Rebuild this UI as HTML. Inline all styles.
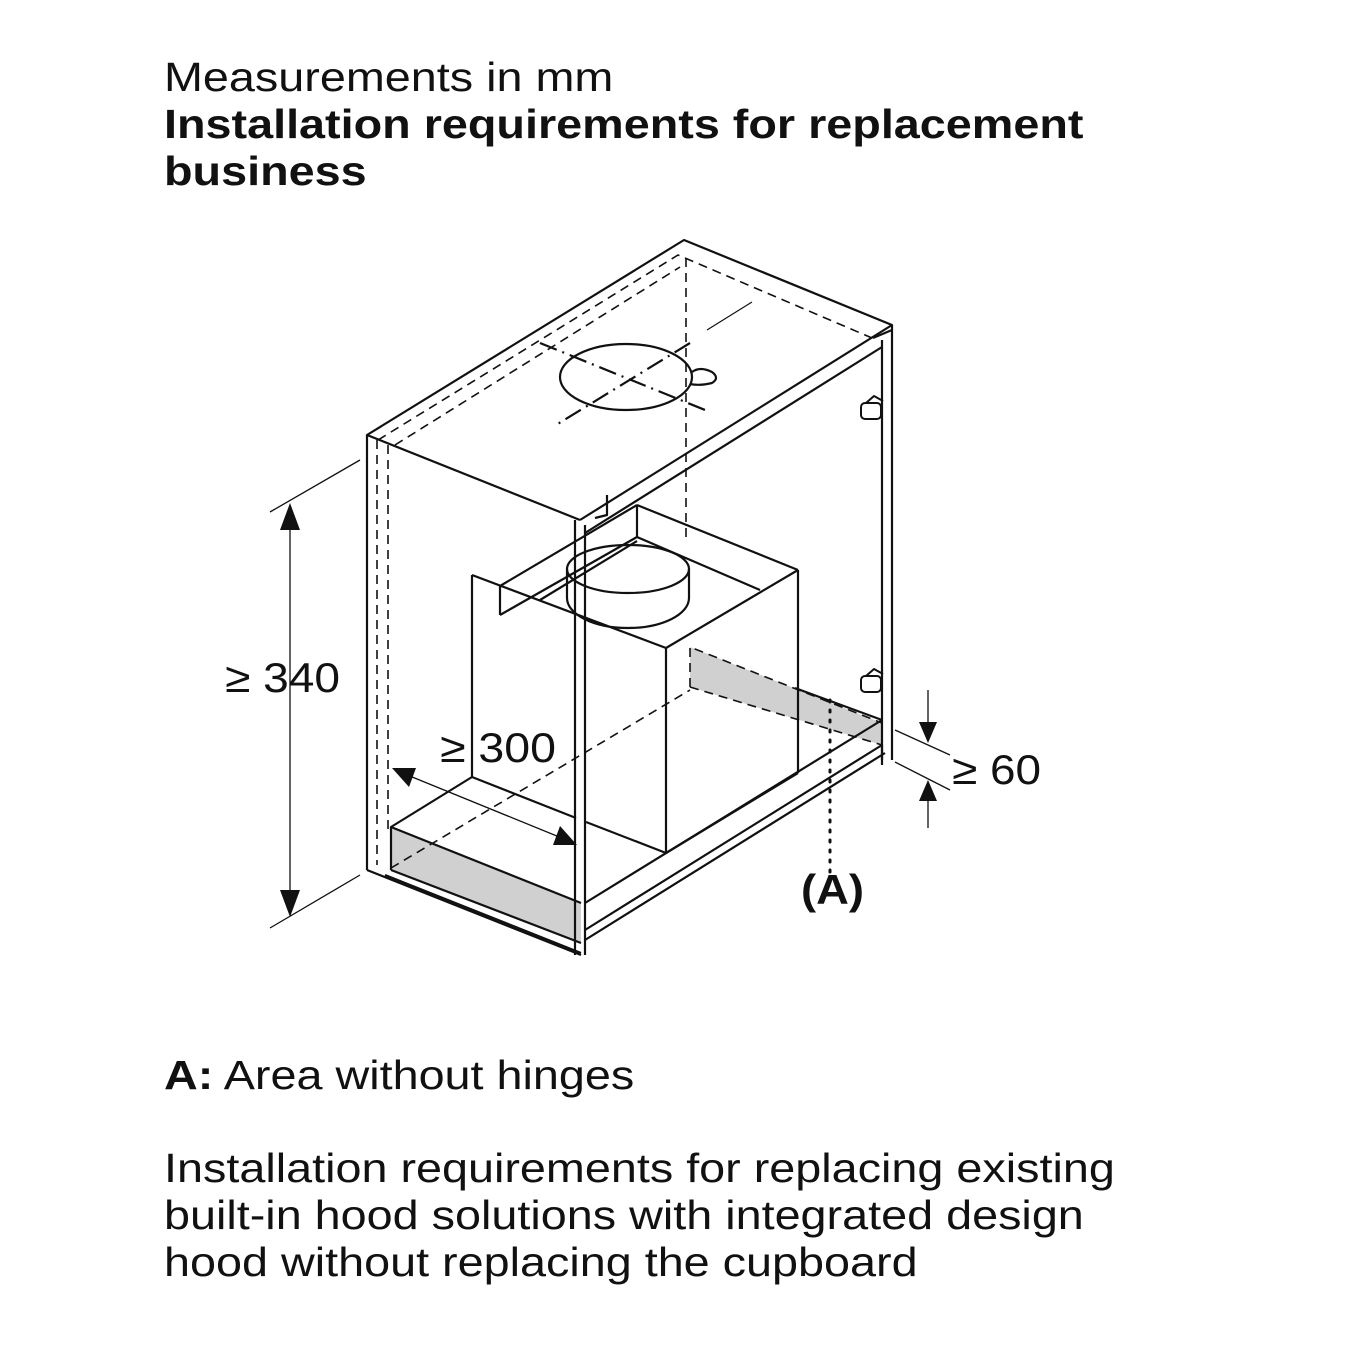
<!DOCTYPE html>
<html><head><meta charset="utf-8"><style>
html,body{margin:0;padding:0;background:#fff;}
body{width:1346px;height:1346px;position:relative;overflow:hidden;font-family:"Liberation Sans",Arial,sans-serif;color:#111;}
.t{position:absolute;left:164px;font-size:41px;line-height:47px;white-space:nowrap;transform:scaleX(1.14);transform-origin:0 0;}
b{font-weight:bold;}
</style></head><body>
<div class="t" style="top:54px">Measurements in mm</div>
<div class="t" style="top:101px"><b>Installation requirements for replacement<br>business</b></div>
<div class="t" style="top:1052px"><b>A:</b> Area without hinges</div>
<div class="t" style="top:1145px">Installation requirements for replacing existing<br>built-in hood solutions with integrated design<br>hood without replacing the cupboard</div>

<svg width="1346" height="1346" style="position:absolute;left:0;top:0" xmlns="http://www.w3.org/2000/svg">
<g fill="none" stroke="#111" stroke-width="2.2" stroke-linejoin="round">
<polygon points="391,827 581,903 581,943 391,870" fill="#d0d0d0" stroke="none"/>
<polygon points="690,647 882,723 882,745 690,687" fill="#d0d0d0" stroke="none"/>
<polyline points="367,870 367,435 684,240 892,325 892,760"/>
<line x1="367" y1="435" x2="580" y2="520"/>
<line x1="580" y1="520" x2="892" y2="325"/>
<line x1="575" y1="520" x2="575" y2="955"/>
<line x1="585" y1="525" x2="585" y2="955"/>
<line x1="367" y1="870" x2="581" y2="955"/>
<line x1="585" y1="533" x2="882" y2="347"/>
<line x1="882" y1="340" x2="882" y2="760"/>
<line x1="873" y1="338" x2="892" y2="330"/>
<polyline points="391,870 391,827 472,777"/>
<line x1="391" y1="827" x2="581" y2="903"/>
<line x1="391" y1="870" x2="581" y2="943"/>
<line x1="385" y1="875" x2="581" y2="953"/>
<line x1="585" y1="903" x2="882" y2="720"/>
<line x1="585" y1="930" x2="882" y2="745"/>
<line x1="585" y1="940" x2="885" y2="753"/>
<line x1="795" y1="688" x2="882" y2="720"/>
<line x1="882" y1="745" x2="882" y2="765"/>
<line x1="472" y1="575" x2="472" y2="777"/>
<line x1="472" y1="777" x2="576" y2="818"/>
<line x1="586" y1="822" x2="666" y2="853"/>
<line x1="666" y1="648" x2="666" y2="853"/>
<line x1="472" y1="575" x2="666" y2="648"/>
<line x1="666" y1="648" x2="798" y2="570"/>
<line x1="798" y1="570" x2="798" y2="773"/>
<line x1="666" y1="853" x2="798" y2="773"/>
<line x1="798" y1="570" x2="637" y2="505"/>
<line x1="637" y1="505" x2="637" y2="537"/>
<line x1="637" y1="537" x2="500" y2="615"/>
<polyline points="500,615 500,586 637,505"/>
<line x1="540" y1="600" x2="637" y2="541"/>
<line x1="637" y1="537" x2="760" y2="590"/>
<polyline points="607,495 607,515 595,518"/>
<ellipse cx="628" cy="569" rx="61" ry="24"/>
<path d="M567,569 L567,598 A61,30 0 0 0 689,598 L689,569"/>
<ellipse cx="626" cy="377" rx="66" ry="33"/>
<path d="M692,372 Q700,366 712,372 Q720,378 712,383 Q700,386 690,384"/>
<g stroke-width="2">
<rect x="861" y="403" width="20" height="16" rx="4"/><path d="M866,403 L874,396 L883,401"/>
<rect x="861" y="676" width="20" height="16" rx="4"/><path d="M866,676 L874,669 L883,674"/>
</g>
</g>
<g fill="none" stroke="#111" stroke-width="1.6" stroke-dasharray="9,6">
<polyline points="378,440 678,255 872,338"/>
<polyline points="395,445 680,267"/>
<line x1="377" y1="440" x2="377" y2="865"/>
<line x1="388" y1="445" x2="388" y2="830"/>
<line x1="686" y1="258" x2="686" y2="540"/>
<line x1="391" y1="868" x2="690" y2="690"/>
<polyline points="690,687 690,647 882,723"/>
<line x1="690" y1="687" x2="882" y2="745"/>
</g>
<g fill="none" stroke="#111" stroke-width="2.2" stroke-dasharray="18,6,2,6">
<line x1="540" y1="343" x2="710" y2="412"/>
<line x1="690" y1="343" x2="556" y2="425"/>
</g>
<line x1="707" y1="330" x2="752" y2="302" stroke="#111" stroke-width="1.2"/>
<line x1="830" y1="700" x2="830" y2="880" stroke="#111" stroke-width="3" stroke-dasharray="2,8" stroke-linecap="round"/>
<g stroke="#111" stroke-width="1.3" fill="none">
<line x1="270" y1="512" x2="360" y2="460"/>
<line x1="270" y1="928" x2="360" y2="875"/>
<line x1="290" y1="510" x2="290" y2="912"/>
<line x1="395" y1="770" x2="574" y2="843"/>
<line x1="895" y1="730" x2="950" y2="755"/>
<line x1="895" y1="762" x2="950" y2="790"/>
<line x1="928" y1="690" x2="928" y2="738"/>
<line x1="928" y1="785" x2="928" y2="828"/>
</g>
<g fill="#111">
<polygon points="290,503 280,530 300,530"/>
<polygon points="290,917 280,890 300,890"/>
<polygon points="392,768 416,768 409,787"/>
<polygon points="577,845 553,845 560,826"/>
<polygon points="928,743 919,722 937,722"/>
<polygon points="928,780 919,801 937,801"/>
</g>
<g font-family="Liberation Sans, Arial, sans-serif" font-size="42" fill="#111">
<text x="225" y="692" textLength="115" lengthAdjust="spacingAndGlyphs">≥ 340</text>
<text x="440" y="762" textLength="116" lengthAdjust="spacingAndGlyphs">≥ 300</text>
<text x="952" y="784" textLength="89" lengthAdjust="spacingAndGlyphs">≥ 60</text>
<text x="801" y="904" font-weight="bold" textLength="63" lengthAdjust="spacingAndGlyphs">(A)</text>
</g>
</svg>
</body></html>
